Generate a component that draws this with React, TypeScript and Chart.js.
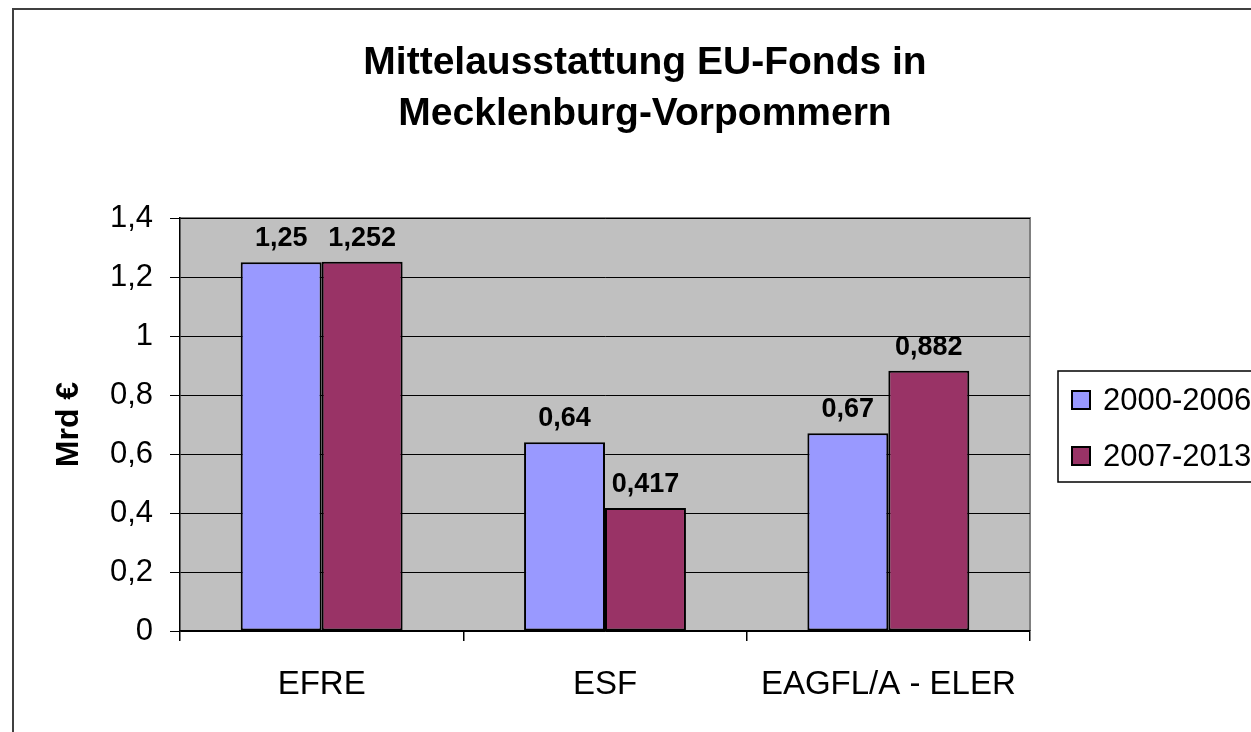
import React, { useEffect, useRef } from "react";
import { Chart, registerables } from "chart.js";

Chart.register(...registerables);

const categories = ["EFRE", "ESF", "EAGFL/A - ELER"];
const seriesNames = ["2000-2006", "2007-2013"];
const values2000 = [1.25, 0.64, 0.67];
const values2007 = [1.252, 0.417, 0.882];
const seriesColors = ["#9999FF", "#993366"];
const chartTitle = ["Mittelausstattung EU-Fonds in", "Mecklenburg-Vorpommern"];
const yAxisTitle = "Mrd €";
const yMin = 0;
const yMax = 1.4;
const yStep = 0.2;

const FONT = "'Liberation Sans', Arial, sans-serif";

const fmt = (v: number) => String(Number(v.toFixed(3))).replace(".", ",");

const backgroundPlugin = {
  id: "bgFrame",
  beforeDraw(chart: any) {
    const { ctx, chartArea, width, height } = chart;
    ctx.save();
    ctx.fillStyle = "#ffffff";
    ctx.fillRect(0, 0, width, height);
    // outer frame
    ctx.strokeStyle = "#404040";
    ctx.lineWidth = 2;
    ctx.strokeRect(13, 9, width + 20, height + 20);
    // plot area
    ctx.fillStyle = "#C0C0C0";
    ctx.fillRect(chartArea.left, chartArea.top, chartArea.right - chartArea.left, chartArea.bottom - chartArea.top);
    ctx.strokeStyle = "#808080";
    ctx.lineWidth = 2;
    ctx.beginPath();
    ctx.moveTo(chartArea.left, chartArea.top);
    ctx.lineTo(chartArea.right, chartArea.top);
    ctx.lineTo(chartArea.right, chartArea.bottom);
    ctx.stroke();
    // title
    ctx.fillStyle = "#000";
    ctx.font = `bold 39px ${FONT}`;
    ctx.textAlign = "center";
    ctx.textBaseline = "middle";
    chartTitle.forEach((line, i) => {
      ctx.fillText(line, 645, 63 + i * 51);
    });
    ctx.restore();
  },
};

const labelsPlugin = {
  id: "valueLabels",
  afterDatasetsDraw(chart: any) {
    const { ctx } = chart;
    ctx.save();
    ctx.font = `bold 27px ${FONT}`;
    ctx.fillStyle = "#000";
    ctx.textAlign = "center";
    ctx.textBaseline = "alphabetic";
    chart.data.datasets.forEach((ds: any, i: number) => {
      const meta = chart.getDatasetMeta(i);
      meta.data.forEach((bar: any, j: number) => {
        ctx.fillText(fmt(ds.data[j]), bar.x, bar.y - 16);
      });
    });
    ctx.restore();
  },
};

const legendPlugin = {
  id: "customLegend",
  afterDraw(chart: any) {
    const { ctx } = chart;
    ctx.save();
    ctx.fillStyle = "#ffffff";
    ctx.fillRect(1058, 371, 300, 111);
    ctx.strokeStyle = "#000";
    ctx.lineWidth = 1.5;
    ctx.strokeRect(1058, 371, 300, 111);
    ctx.font = `31px ${FONT}`;
    ctx.textBaseline = "middle";
    ctx.textAlign = "left";
    chart.data.datasets.forEach((ds: any, i: number) => {
      const cy = 400 + i * 56;
      ctx.fillStyle = ds.backgroundColor;
      ctx.fillRect(1072, cy - 9, 18, 18);
      ctx.strokeStyle = "#000";
      ctx.lineWidth = 2;
      ctx.strokeRect(1072, cy - 9, 18, 18);
      ctx.fillStyle = "#000";
      ctx.fillText(ds.label, 1103, cy + 1);
    });
    ctx.restore();
  },
};

export default function App() {
  const ref = useRef<HTMLCanvasElement | null>(null);

  useEffect(() => {
    if (!ref.current) return;
    Chart.defaults.font.family = FONT;
    Chart.defaults.color = "#000";
    const chart = new Chart(ref.current, {
      type: "bar",
      data: {
        labels: categories,
        datasets: [
          {
            label: seriesNames[0],
            data: values2000,
            backgroundColor: seriesColors[0],
            borderColor: "#000",
            borderWidth: 2,
            borderSkipped: false,
          },
          {
            label: seriesNames[1],
            data: values2007,
            backgroundColor: seriesColors[1],
            borderColor: "#000",
            borderWidth: 2,
            borderSkipped: false,
          },
        ],
      },
      options: {
        responsive: false,
        maintainAspectRatio: false,
        animation: false,
        datasets: {
          bar: { categoryPercentage: 2 / 3.5, barPercentage: 1 },
        },
        layout: { padding: { left: 14, right: 221, top: 218, bottom: 0 } },
        plugins: {
          legend: { display: false },
          tooltip: { enabled: false },
          title: { display: false },
        },
        scales: {
          x: {
            offset: true,
            grid: {
              display: true,
              offset: true,
              drawOnChartArea: false,
              drawTicks: true,
              tickLength: 10,
              color: "#000",
              lineWidth: 1.5,
            },
            border: { display: true, color: "#000", width: 1.5 },
            ticks: {
              font: { size: 33, family: FONT },
              color: "#000",
              padding: 24,
              maxRotation: 0,
            },
            afterFit: (scale: any) => {
              scale.height = 101;
            },
          },
          y: {
            min: yMin,
            max: yMax,
            grid: {
              color: "#000",
              lineWidth: 1,
              drawTicks: true,
              tickLength: 10,
            },
            border: { display: true, color: "#000", width: 1.5 },
            ticks: {
              stepSize: yStep,
              font: { size: 31, family: FONT },
              color: "#000",
              padding: 17,
              callback: (v: any) => String(Number(Number(v).toFixed(1))).replace(".", ","),
            },
            title: {
              display: true,
              text: yAxisTitle,
              font: { size: 32, weight: "bold", family: FONT },
              color: "#000",
              padding: { top: 36, bottom: 0 },
            },
            afterFit: (scale: any) => {
              scale.width = 166;
            },
          },
        },
      },
      plugins: [backgroundPlugin, labelsPlugin, legendPlugin],
    } as any);
    return () => chart.destroy();
  }, []);

  return (
    <div style={{ position: "fixed", left: 0, top: 0, width: 1251, height: 732, background: "#fff" }}>
      <canvas ref={ref} width={1251} height={732} style={{ display: "block", width: 1251, height: 732 }} />
    </div>
  );
}
